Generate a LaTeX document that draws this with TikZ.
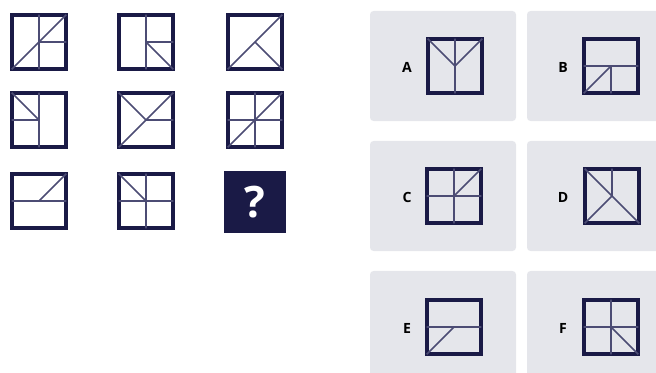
\documentclass[tikz,border=0pt]{standalone}
\usepackage{fontspec}
\setmainfont{Open Sans}
\usepackage{tikz}
\usetikzlibrary{positioning}

\definecolor{navy}{RGB}{26,26,70}
\definecolor{thinline}{RGB}{76,76,116}
\definecolor{panelgray}{RGB}{229,230,235}

\begin{document}
\begin{tikzpicture}[
    x=0.03cm, y=-0.03cm,
    cell/.style={rectangle, draw=navy, line width=3.5pt, minimum size=1.64cm, inner sep=0pt, outer sep=0pt},
    seg/.style={draw=thinline, line width=1.4pt},
    panel/.style={rectangle, fill=panelgray, rounded corners=3pt, minimum width=4.38cm, minimum height=3.3cm, inner sep=0pt},
    tag/.style={font=\fontsize{12}{14}\selectfont\bfseries, text=black},
    blank/.style={rectangle, fill=navy, minimum size=1.86cm, inner sep=0pt, font=\fontsize{37}{40}\selectfont\bfseries, text=white}
]
\clip (0,0) rectangle (656,373);

% --- Puzzle grid (3x3) ---
\node[cell] (q1) at (39,42) {};
\node[cell] (q2) at (146,42) {};
\node[cell] (q3) at (255,42) {};
\node[cell] (q4) at (39,120) {};
\node[cell] (q5) at (146,120) {};
\node[cell] (q6) at (255,120) {};
\node[cell] (q7) at (39,201) {};
\node[cell] (q8) at (146,201) {};
\node[blank] (q9) at (255,202) {?};

\draw[seg] (q1.north) -- (q1.south) (q1.center) -- (q1.east) (q1.south west) -- (q1.north east);
\draw[seg] (q2.north) -- (q2.south) (q2.center) -- (q2.east) (q2.center) -- (q2.south east);
\draw[seg] (q3.south west) -- (q3.north east) (q3.center) -- (q3.south east);
\draw[seg] (q4.north) -- (q4.south) (q4.west) -- (q4.center) (q4.north west) -- (q4.center);
\draw[seg] (q5.north west) -- (q5.center) (q5.south west) -- (q5.north east) (q5.center) -- (q5.east);
\draw[seg] (q6.north) -- (q6.south) (q6.west) -- (q6.east) (q6.south west) -- (q6.north east);
\draw[seg] (q7.west) -- (q7.east) (q7.center) -- (q7.north east);
\draw[seg] (q8.north) -- (q8.south) (q8.west) -- (q8.east) (q8.north west) -- (q8.center);

% --- Answer panels ---
\node[panel] (pA) at (443,66) {};
\node[panel] (pB) at (600,66) {};
\node[panel] (pC) at (443,196) {};
\node[panel] (pD) at (600,196) {};
\node[panel] (pE) at (443,326) {};
\node[panel] (pF) at (600,326) {};

\node[cell] (oA) at (455,66) {};
\node[cell] (oB) at (611,66) {};
\node[cell] (oC) at (454,196) {};
\node[cell] (oD) at (612,196) {};
\node[cell] (oE) at (454,327) {};
\node[cell] (oF) at (611,327) {};

\node[tag] (tA) at (407,67) {A};
\node[tag] (tB) at (563,67) {B};
\node[tag] (tC) at (407,197) {C};
\node[tag] (tD) at (563,197) {D};
\node[tag] (tE) at (407,328) {E};
\node[tag] (tF) at (563,328) {F};

\draw[seg] (oA.north) -- (oA.south) (oA.north west) -- (oA.center) -- (oA.north east);
\draw[seg] (oB.west) -- (oB.east) (oB.center) -- (oB.south) (oB.south west) -- (oB.center);
\draw[seg] (oC.north) -- (oC.south) (oC.west) -- (oC.east) (oC.center) -- (oC.north east);
\draw[seg] (oD.north) -- (oD.center) (oD.north west) -- (oD.south east) (oD.south west) -- (oD.center);
\draw[seg] (oE.west) -- (oE.east) (oE.south west) -- (oE.center);
\draw[seg] (oF.north) -- (oF.south) (oF.west) -- (oF.east) (oF.center) -- (oF.south east);

\end{tikzpicture}
\end{document}
